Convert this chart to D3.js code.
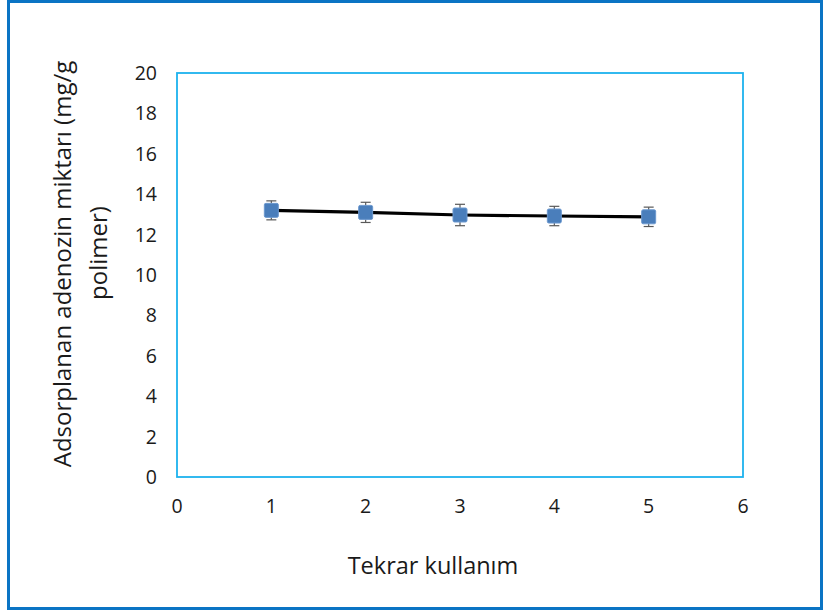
<!DOCTYPE html>
<html>
<head>
<meta charset="utf-8">
<script src="https://cdnjs.cloudflare.com/ajax/libs/d3/7.8.5/d3.min.js"></script>
<style>
  body { margin: 0; background: #fff; }
  text { font-family: "Open Sans", "Noto Sans", sans-serif; fill: #1a1a1a; }
</style>
</head>
<body>
<svg id="chart" width="824" height="612"></svg>
<script>
// data
var reuse = [1, 2, 3, 4, 5];
var amount = [13.2, 13.1, 12.97, 12.92, 12.88];
var errs = [0.47, 0.5, 0.53, 0.48, 0.48];
var xTicks = [0, 1, 2, 3, 4, 5, 6];
var yTicks = [0, 2, 4, 6, 8, 10, 12, 14, 16, 18, 20];

var svg = d3.select("svg#chart");

// outer frame
svg.append("rect")
  .attr("x", 8.5).attr("y", 1.5)
  .attr("width", 813).attr("height", 607)
  .attr("fill", "none").attr("stroke", "#0a74c4").attr("stroke-width", 3);

var pLeft = 177, pRight = 743, pTop = 73, pBottom = 477;

var x = d3.scaleLinear().domain([0, 6]).range([pLeft, pRight]);
var y = d3.scaleLinear().domain([0, 20]).range([pBottom, pTop]);

// plot box
svg.append("rect")
  .attr("x", pLeft).attr("y", pTop)
  .attr("width", pRight - pLeft).attr("height", pBottom - pTop)
  .attr("fill", "none").attr("stroke", "#1cb2ee").attr("stroke-width", 1.8);

// tick labels
svg.selectAll(".ytick").data(yTicks).enter().append("text")
  .attr("class", "ytick")
  .attr("x", pLeft - 20)
  .attr("y", function(d) { return y(d); })
  .attr("dy", "0.36em")
  .attr("text-anchor", "end")
  .style("font-size", "19.5px")
  .text(function(d) { return d; });

svg.selectAll(".xtick").data(xTicks).enter().append("text")
  .attr("class", "xtick")
  .attr("x", function(d) { return x(d); })
  .attr("y", 513)
  .attr("text-anchor", "middle")
  .style("font-size", "19.5px")
  .text(function(d) { return d; });

// line
var pts = reuse.map(function(d, i) { return {x: d, y: amount[i], e: errs[i]}; });
svg.append("path")
  .datum(pts)
  .attr("fill", "none")
  .attr("stroke", "#000")
  .attr("stroke-width", 3.2)
  .attr("d", d3.line().x(function(d) { return x(d.x); }).y(function(d) { return y(d.y); }));

// error bars
var eb = svg.selectAll(".err").data(pts).enter().append("g").attr("class", "err")
  .attr("stroke", "#595959").attr("stroke-width", 1.2);
eb.append("line")
  .attr("x1", function(d) { return x(d.x); }).attr("x2", function(d) { return x(d.x); })
  .attr("y1", function(d) { return y(d.y + d.e); }).attr("y2", function(d) { return y(d.y - d.e); });
eb.append("line")
  .attr("x1", function(d) { return x(d.x) - 5; }).attr("x2", function(d) { return x(d.x) + 5; })
  .attr("y1", function(d) { return y(d.y + d.e); }).attr("y2", function(d) { return y(d.y + d.e); });
eb.append("line")
  .attr("x1", function(d) { return x(d.x) - 5; }).attr("x2", function(d) { return x(d.x) + 5; })
  .attr("y1", function(d) { return y(d.y - d.e); }).attr("y2", function(d) { return y(d.y - d.e); });

// markers
svg.selectAll(".pt").data(pts).enter().append("rect")
  .attr("class", "pt")
  .attr("x", function(d) { return x(d.x) - 7; })
  .attr("y", function(d) { return y(d.y) - 7; })
  .attr("width", 14).attr("height", 14)
  .attr("rx", 1.5)
  .attr("fill", "#4a7ebb").attr("stroke", "#6b98cf").attr("stroke-width", 1);

// axis titles
svg.append("text")
  .attr("x", 433).attr("y", 574)
  .attr("text-anchor", "middle")
  .style("font-size", "23.5px")
  .text("Tekrar kullanım");

var yt = svg.append("text")
  .attr("transform", "translate(71,264) rotate(-90)")
  .attr("text-anchor", "middle")
  .style("font-size", "24px");
yt.append("tspan").attr("x", 0).attr("y", 0).text("Adsorplanan adenozin miktarı (mg/g");
yt.append("tspan").attr("x", 11).attr("y", 36).text("polimer)");
</script>
</body>
</html>
